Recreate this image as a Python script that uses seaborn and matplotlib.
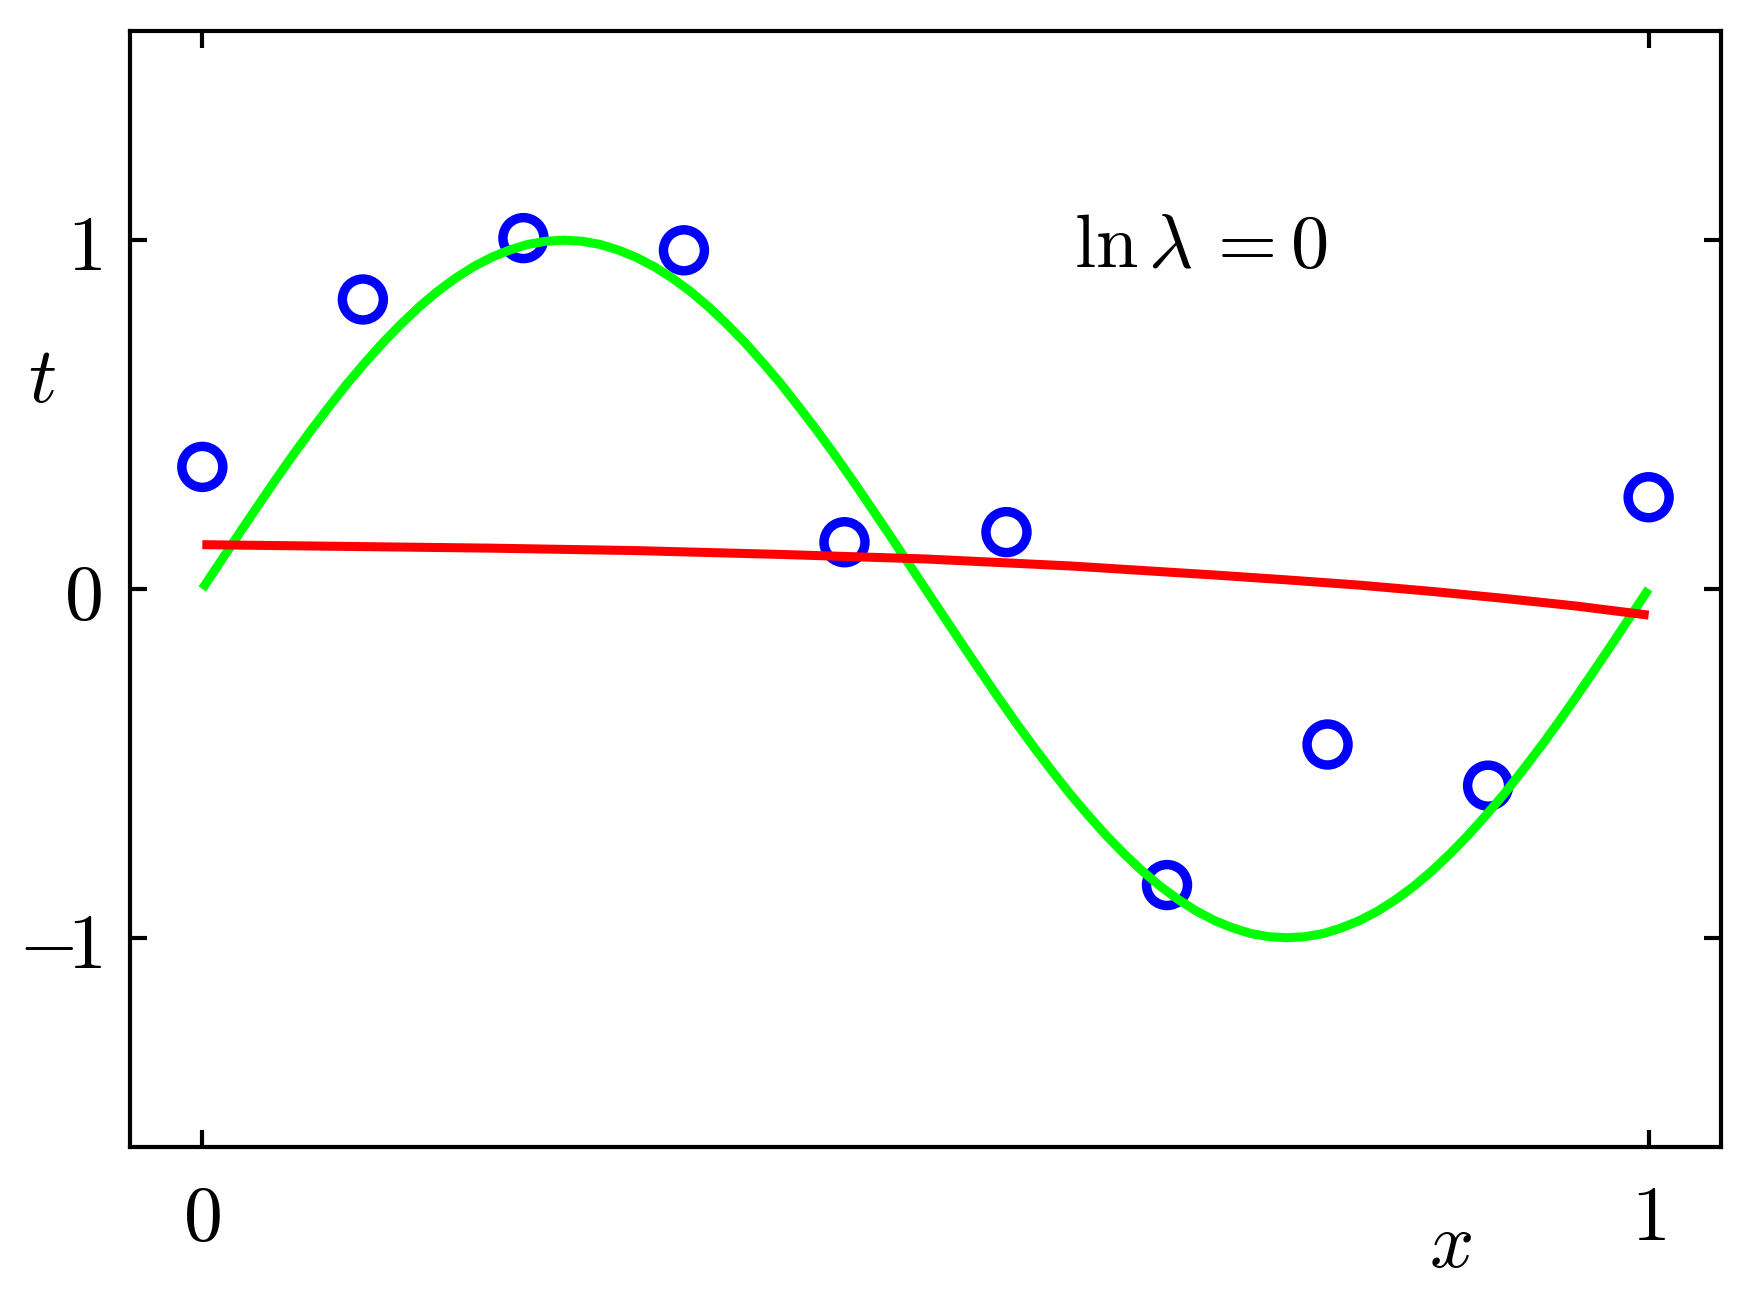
import matplotlib

matplotlib.use("Agg")
import matplotlib.pyplot as plt
import pandas as pd
import seaborn as sns

# observed data points (x_n, t_n)
x_obs = [0.0, 0.111, 0.222, 0.333, 0.444, 0.556, 0.667, 0.778, 0.889, 1.0]
t_obs = [0.350, 0.830, 1.006, 0.971, 0.134, 0.163, -0.849, -0.446, -0.564, 0.263]

# green curve at steps of 0.0125
x_true = [i / 80 for i in range(81)]
t_true = [
    0.000, 0.078, 0.156, 0.233, 0.309, 0.383, 0.454, 0.522, 0.588, 0.649,
    0.707, 0.760, 0.809, 0.853, 0.891, 0.924, 0.951, 0.972, 0.988, 0.997,
    1.000, 0.997, 0.988, 0.972, 0.951, 0.924, 0.891, 0.853, 0.809, 0.760,
    0.707, 0.649, 0.588, 0.522, 0.454, 0.383, 0.309, 0.233, 0.156, 0.078,
    0.000, -0.078, -0.156, -0.233, -0.309, -0.383, -0.454, -0.522, -0.588, -0.649,
    -0.707, -0.760, -0.809, -0.853, -0.891, -0.924, -0.951, -0.972, -0.988, -0.997,
    -1.000, -0.997, -0.988, -0.972, -0.951, -0.924, -0.891, -0.853, -0.809, -0.760,
    -0.707, -0.649, -0.588, -0.522, -0.454, -0.383, -0.309, -0.233, -0.156, -0.078,
    0.000,
]

# red fitted curve (ln lambda = 0)
x_fit = [0.0, 0.1, 0.2, 0.3, 0.4, 0.5, 0.6, 0.7, 0.75, 0.8, 0.85, 0.9, 0.95, 1.0]
t_fit = [0.127, 0.122, 0.117, 0.110, 0.099, 0.086, 0.066, 0.040, 0.026, 0.011,
         -0.007, -0.027, -0.049, -0.075]

xticks = [0, 1]
xtick_labels = ["$0$", "$1$"]
yticks = [-1, 0, 1]
ytick_labels = [r"$-\!1$", "$0$", "$1$"]
annotation = r"$\ln\lambda\,=0$"

sns.set_theme(style="white")
plt.rcParams["mathtext.fontset"] = "cm"
plt.rcParams["lines.solid_capstyle"] = "butt"
plt.rcParams["text.color"] = "black"
plt.rcParams["axes.labelcolor"] = "black"

fig = plt.figure(figsize=(17.5, 13), dpi=100)
ax = fig.add_axes([0.0743, 0.1177, 0.9091, 0.8585])

obs = pd.DataFrame({"x": x_obs, "t": t_obs})
true = pd.DataFrame({"x": x_true, "t": t_true})
fit = pd.DataFrame({"x": x_fit, "t": t_fit})

sns.scatterplot(
    data=obs, x="x", y="t", ax=ax, s=870, marker="o",
    facecolor="none", edgecolor="#0000ff", linewidth=6.8, zorder=2,
)
sns.lineplot(data=true, x="x", y="t", ax=ax, color="#00ff00", linewidth=6.5,
             sort=False, zorder=3)
sns.lineplot(data=fit, x="x", y="t", ax=ax, color="#ff0000", linewidth=6.5,
             sort=False, zorder=4)

ax.set_xlim(-0.05, 1.05)
ax.set_ylim(-1.6, 1.6)
ax.set_xticks(xticks)
ax.set_xticklabels(xtick_labels)
ax.set_yticks(yticks)
ax.set_yticklabels(ytick_labels)
ax.tick_params(axis="both", direction="in", length=12, width=3.0, colors="black",
               labelsize=56, left=True, bottom=True, top=True, right=True)
ax.tick_params(axis="x", pad=24)
ax.tick_params(axis="y", pad=20)
for spine in ax.spines.values():
    spine.set_linewidth(3.0)
    spine.set_color("black")

ax.set_xlabel("$x$", fontsize=56)
ax.set_ylabel("$t$", fontsize=56, rotation=0)
ax.xaxis.set_label_coords(0.83, -0.1075)
ax.xaxis.label.set_verticalalignment("baseline")
ax.yaxis.set_label_coords(-0.0553, 0.6676)
ax.yaxis.label.set_verticalalignment("baseline")
ax.yaxis.label.set_horizontalalignment("center")

ax.text(0.603, 0.923, annotation, fontsize=55, va="baseline", ha="left")

fig.savefig("out.png", dpi=100)
